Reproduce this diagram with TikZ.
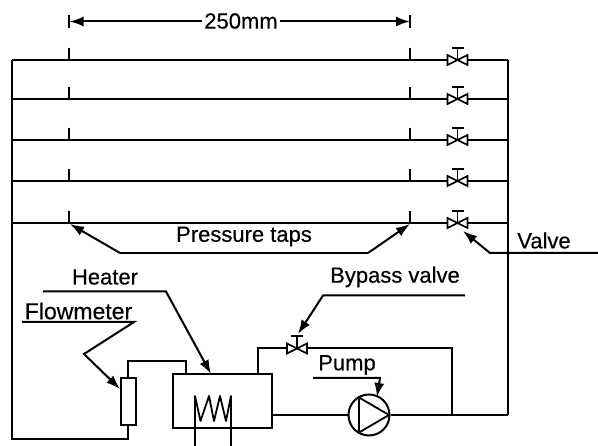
\documentclass[tikz,border=0pt]{standalone}
\usepackage{fontspec}
\setmainfont{Liberation Sans}
\usetikzlibrary{arrows.meta}
\tikzset{
  x=1pt,y=-1pt,
  pipe/.style={line width=2pt,line join=miter},
  lead/.style={line width=2pt,line join=miter,-{Latex[length=14pt,width=10pt]}},
  lbl/.style={inner sep=0pt,font=\fontsize{22}{24}\selectfont\addfontfeature{FakeBold=0.4}},
  tap/.style={line width=2pt},
  valvebody/.style={line width=1.6pt,fill=white,line join=miter},
  valve/.pic={
    \draw[valvebody] (0,0)--(-10,-5)--(-10,5)--cycle;
    \draw[valvebody] (0,0)--(10,-5)--(10,5)--cycle;
    \draw[line width=1.8pt] (0,0)--(0,-12);
    \draw[line width=2pt] (-6,-12)--(6,-12);
  }
}
\begin{document}
\begin{tikzpicture}
\useasboundingbox (0,0) rectangle (598,446);
% corner coordinates
\coordinate (L1) at (12,60); \coordinate (R1) at (507.5,60);
\coordinate (L2) at (12,99); \coordinate (R2) at (507.5,99);
\coordinate (L3) at (12,140); \coordinate (R3) at (507.5,140);
\coordinate (L4) at (12,181); \coordinate (R4) at (507.5,181);
\coordinate (L5) at (12,223); \coordinate (R5) at (507.5,223);
\coordinate (LB) at (12,439); \coordinate (RB) at (507.5,415);
% pipes
\draw[pipe] (L1)--(R1);
\draw[pipe] (L2)--(R2);
\draw[pipe] (L3)--(R3);
\draw[pipe] (L4)--(R4);
\draw[pipe] (L5)--(R5);
\draw[pipe] (R1)--(RB);
% equipment
\node[draw,line width=2pt,minimum width=15pt,minimum height=47pt,inner sep=0pt,fill=white] (fm) at (128,402) {};
\node[draw,line width=2pt,minimum width=99pt,minimum height=54pt,inner sep=0pt] (ht) at (222.5,401.5) {};
\node[draw,circle,line width=2pt,minimum size=41pt,inner sep=0pt] (pm) at (369,415) {};
\coordinate (j1) at (452,415);
\coordinate (bv) at (297,348.5);
\draw[pipe] (L1)--(LB)-|(fm.south);
\draw[pipe] (fm.north)|-(186,361)--(186,375);
\draw[pipe] (258,375)|-(bv);
\draw[pipe] (bv)-|(j1);
\draw[pipe] (271.5,415)--(pm.west);
\draw[pipe] (pm.east)--(RB);
% pump triangle
\draw[line width=1.8pt,line join=miter] (359,397.5)--(389,415)--(359,432.5)--cycle;
% heater coil
\draw[line width=1.8pt,line join=round] (195,446)--(195,396)--(200.5,421)--(209,396)--(214,421)--(220,396)--(226,421)--(231,396)--(231,446);
% valves
\pic at (457.5,60) {valve};
\pic at (457.5,99) {valve};
\pic at (457.5,140) {valve};
\pic at (457.5,181) {valve};
\pic at (457.5,223) {valve};
\pic at (bv) {valve};
% taps
\foreach \yy in {60,99,140,181,223}{
  \draw[tap] (69,\yy-12)--(69,\yy);
  \draw[tap] (410,\yy-12)--(410,\yy);
}
\draw[tap] (69,15)--(69,28);
\draw[tap] (410,15)--(410,28);
% dimension
\node[lbl] (dim) at (241,21) {250mm};
\coordinate (dl) at (69.5,21.5); \coordinate (dr) at (410,21.5);
\draw[lead] (dim.west|-dl)++(-2,0)--(dl);
\draw[lead] (dim.east|-dr)++(2,0)--(dr);
% labels
\node[lbl] (pt) at (244,236.5) {Pressure taps};
\coordinate (ptl) at (120,253); \coordinate (ptr) at (368,253);
\draw[pipe] (ptl)--(ptr);
\draw[lead] (ptl)--(70,224);
\draw[lead] (ptr)--(410,224);
\node[lbl] (vl) at (544,240.5) {Valve};
\draw[lead] (598,253)--(490,253)--(463,231);
\node[lbl] (bl) at (395,277) {Bypass valve};
\draw[lead] (465,295.5)--(323,295.5)--(298,334);
\node[lbl] (pl) at (347,365) {Pump};
\draw[lead] (313,378)--(380,378)--(377,397);
\node[lbl] (hl) at (105,277) {Heater};
\draw[lead] (43,291.5)--(166,291.5)--(211,374);
\node[lbl,font=\fontsize{23}{24}\selectfont\addfontfeature{FakeBold=0.4}] (fl) at (78.5,311) {Flowmeter};
\draw[lead] (22,322)--(134,322)--(84,354)--(120,389);
\end{tikzpicture}
\end{document}
